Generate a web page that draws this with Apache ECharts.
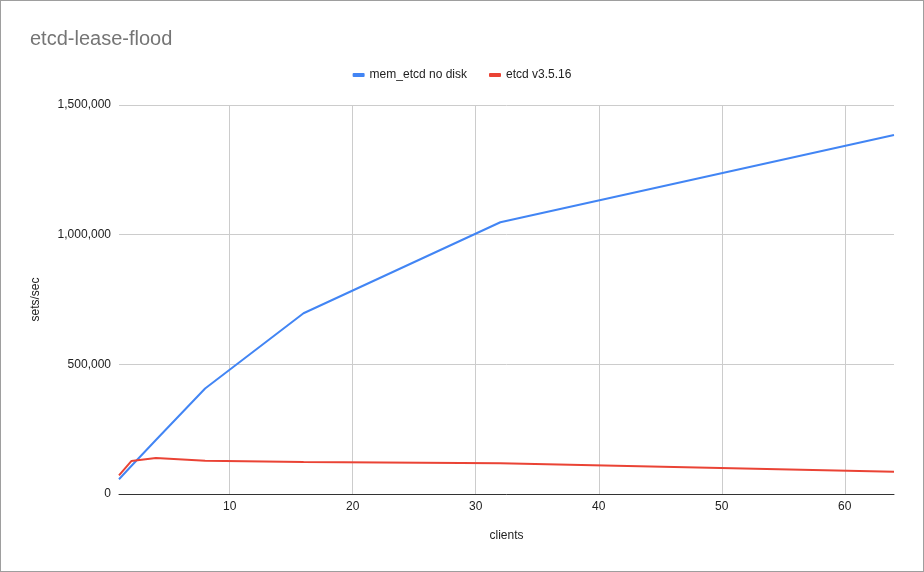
<!DOCTYPE html>
<html>
<head>
<meta charset="utf-8">
<script src="https://cdn.jsdelivr.net/npm/echarts@6/dist/echarts.min.js"></script>
<style>
html,body{margin:0;padding:0;background:#fff;}
#frame{position:absolute;left:0;top:0;width:922px;height:570px;border:1px solid #9e9e9e;}
#c{width:924px;height:572px;position:absolute;left:0;top:0;}
</style>
</head>
<body>
<div id="frame"></div>
<div id="c"></div>
<script>
const clients = [1, 2, 4, 8, 16, 32, 64];
const memEtcd = [57000, 108000, 208000, 407000, 697000, 1048000, 1384000];
const etcd3516 = [72000, 127000, 139000, 128000, 123000, 119000, 86000];
const xTicks = [10, 20, 30, 40, 50, 60];
const yTicks = [0, 500000, 1000000, 1500000];

const chart = echarts.init(document.getElementById('c'));
const font = 'Liberation Sans, Arial, sans-serif';
chart.setOption({
  backgroundColor: 'transparent',
  animation: false,
  title: {
    text: 'etcd-lease-flood', left: 25, top: 24,
    textStyle: {color: '#757575', fontSize: 20, fontWeight: 'normal', fontFamily: font}
  },
  legend: {
    top: 64, left: 'center', itemWidth: 12, itemHeight: 4, itemGap: 22,
    icon: 'roundRect',
    textStyle: {color: '#222', fontSize: 12, fontFamily: font}
  },
  grid: {left: 119, right: 30, top: 105, bottom: 78, containLabel: false},
  xAxis: {
    type: 'value', min: 1, max: 64,
    name: 'clients', nameLocation: 'middle', nameGap: 36,
    nameTextStyle: {color: '#222', fontSize: 12, fontFamily: font},
    axisLine: {show: true, lineStyle: {color: '#333', width: 1}},
    axisTick: {show: false, customValues: xTicks},
    axisLabel: {customValues: xTicks, color: '#222', fontSize: 12, fontFamily: font, margin: 7},
    splitLine: {show: true, lineStyle: {color: '#cccccc', width: 1}}
  },
  yAxis: {
    type: 'value', min: 0, max: 1500000, interval: 500000,
    name: 'sets/sec', nameLocation: 'middle', nameGap: 77, nameRotate: 90,
    nameTextStyle: {color: '#222', fontSize: 12, fontFamily: font},
    axisLine: {show: false},
    axisTick: {show: false},
    axisLabel: {
      color: '#222', fontSize: 12, fontFamily: font, margin: 8,
      formatter: v => v.toLocaleString('en-US')
    },
    splitLine: {show: true, lineStyle: {color: '#cccccc', width: 1}}
  },
  series: [
    {
      name: 'mem_etcd no disk', type: 'line', symbol: 'none',
      data: clients.map((c, i) => [c, memEtcd[i]]),
      lineStyle: {color: '#4285F4', width: 2}, itemStyle: {color: '#4285F4'}
    },
    {
      name: 'etcd v3.5.16', type: 'line', symbol: 'none',
      data: clients.map((c, i) => [c, etcd3516[i]]),
      lineStyle: {color: '#EA4335', width: 2}, itemStyle: {color: '#EA4335'}
    }
  ]
});
</script>
</body>
</html>
